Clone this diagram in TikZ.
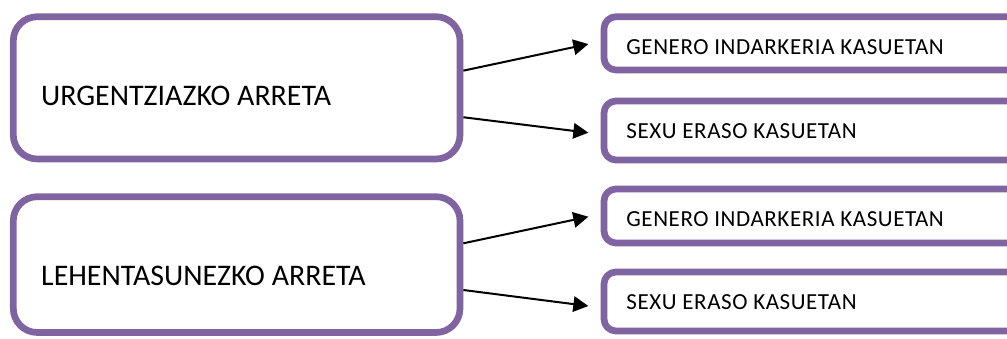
\documentclass[tikz,border=0pt]{standalone}
\usepackage{fontspec}
\setmainfont{Carlito}
\newfontfamily\smallcarlito{Carlito}[LetterSpace=2.5]
\usetikzlibrary{calc,arrows.meta}
\definecolor{boxpurple}{HTML}{8064A2}
\begin{document}
\begin{tikzpicture}[x=1pt,y=-1pt,
  bigbox/.style={draw=boxpurple, line width=6.7pt, rounded corners=24pt, minimum width=446.7pt, inner sep=0pt, fill=white},
  smallbox/.style={draw=boxpurple, line width=6.7pt, rounded corners=12pt, minimum width=426pt, inner sep=0pt, fill=white},
  bigtext/.style={anchor=base west, inner sep=0pt, font=\fontsize{29.9}{36}\selectfont},
  smalltext/.style={anchor=base west, inner sep=0pt, font=\smallcarlito\fontsize{23}{27}\selectfont},
  arr/.style={line width=2pt, -{Triangle[length=15pt,width=15.5pt]}}]
\useasboundingbox (0,0) rectangle (1007,338);
\clip (0,0) rectangle (1007,338);
% left boxes
\node[bigbox, minimum height=142.3pt] (L1) at (236.65,87.85) {};
\node[bigbox, minimum height=135.8pt] (L2) at (236.65,264.6) {};
% right boxes
\node[smallbox, minimum height=53.3pt] (R1) at (817,43.35) {};
\node[smallbox, minimum height=59pt] (R2) at (817,130.5) {};
\node[smallbox, minimum height=54pt] (R3) at (817,216) {};
\node[smallbox, minimum height=59pt] (R4) at (817,301.5) {};
% texts
\node[bigtext] (T1) at (41,105) {URGENTZIAZKO ARRETA};
\node[bigtext] (T2) at (41,285) {LEHENTASUNEZKO ARRETA};
\node[smalltext] (S1) at (626.2,54) {GENERO INDARKERIA KASUETAN};
\node[smalltext] (S2) at (626.2,138) {SEXU ERASO KASUETAN};
\node[smalltext] (S3) at (626.2,226) {GENERO INDARKERIA KASUETAN};
\node[smalltext] (S4) at (626.2,309) {SEXU ERASO KASUETAN};
% arrows
\draw[arr] ($(L1.east)+(0,-17.2)$) -- ($(R1.west)+(-12.3,0.7)$);
\draw[arr] ($(L1.east)+(0,29.4)$) -- ($(R2.west)+(-12.3,2.2)$);
\draw[arr] ($(L2.east)+(0,-21.3)$) -- ($(R3.west)+(-12.3,0.7)$);
\draw[arr] ($(L2.east)+(0,25.4)$) -- ($(R4.west)+(-12.3,4.5)$);
\end{tikzpicture}
\end{document}
